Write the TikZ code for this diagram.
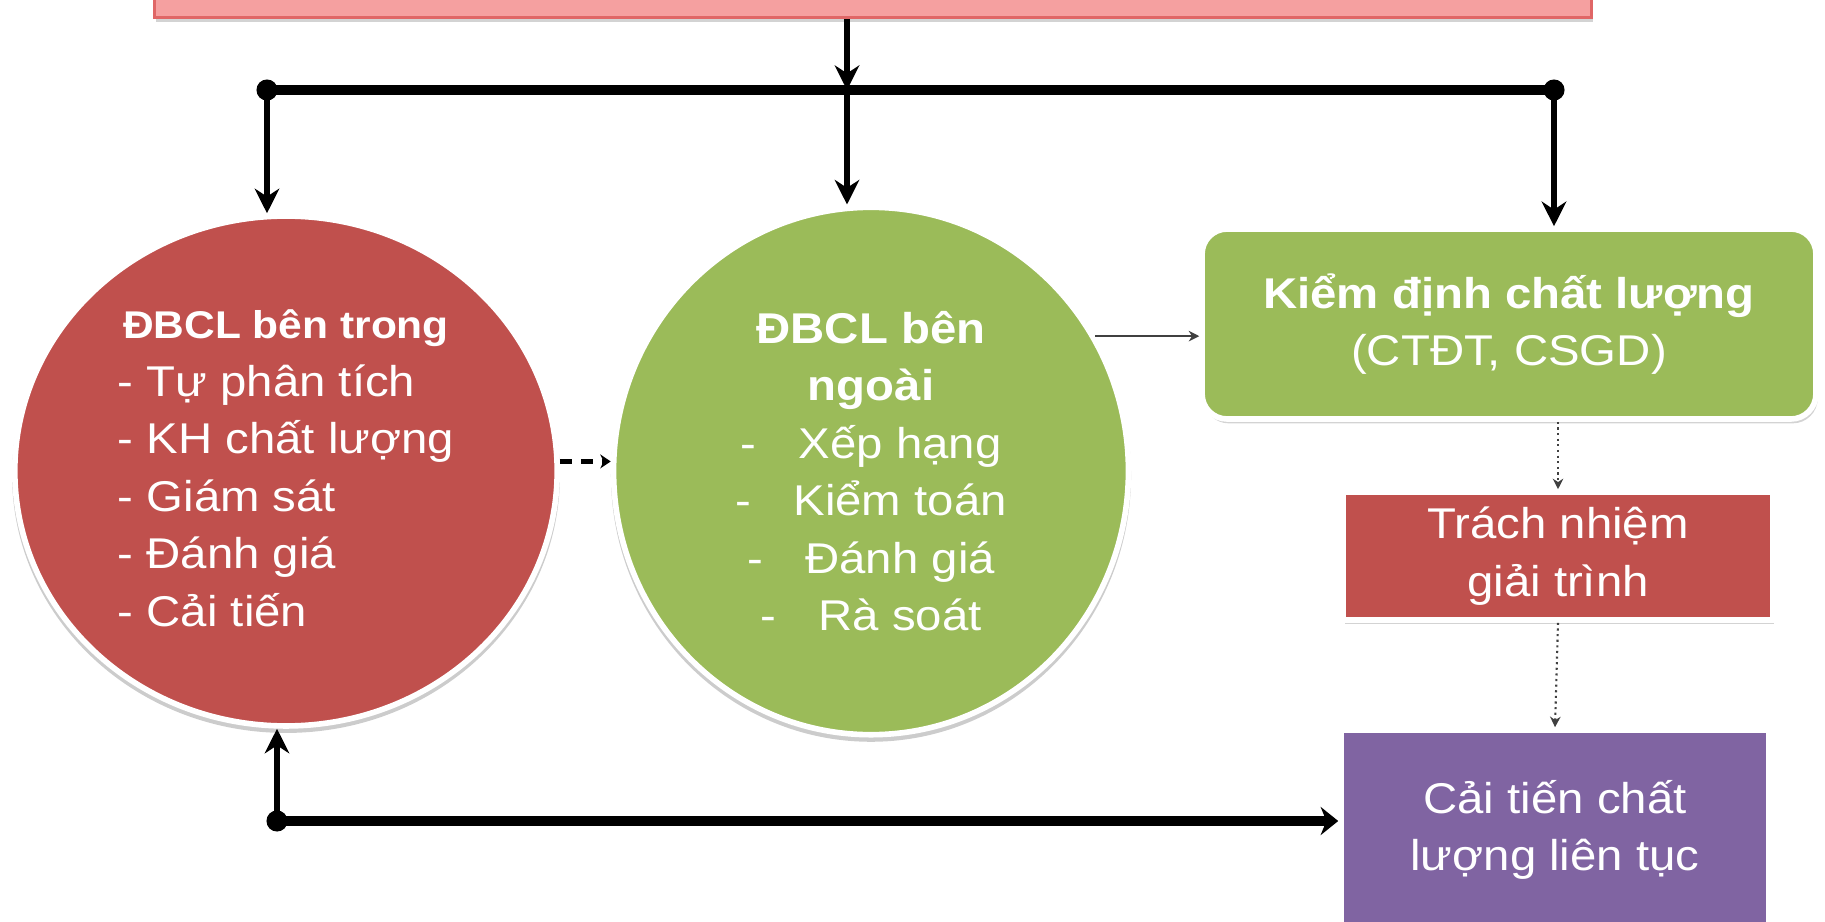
\documentclass[tikz,border=0pt]{standalone}
\usepackage{fontspec}
\setmainfont{Liberation Sans}[FakeStretch=1.1]
\usetikzlibrary{arrows.meta,shapes.geometric,shadows}
\definecolor{dbred}{HTML}{C0504D}
\definecolor{dbgreen}{HTML}{9BBB59}
\definecolor{dbpurple}{HTML}{8064A2}
\definecolor{dbpink}{HTML}{F5A0A0}
\definecolor{dbpinkline}{HTML}{E06666}
\begin{document}
\begin{tikzpicture}
  [x=0.02cm,y=-0.02cm,
   every node/.style={text=white,font=\fontsize{24.5}{32.7}\selectfont},
   oval/.style={draw=white,line width=3.2pt,ellipse,inner sep=0pt,drop shadow={shadow scale=1.01,shadow xshift=0pt,shadow yshift=-2.5pt,opacity=.4}},
   box/.style={draw=white,line width=3.2pt,rectangle,drop shadow={shadow xshift=1pt,shadow yshift=-2.5pt,opacity=.35}},
   link/.style={line width=3.2pt,-{Stealth[length=14pt,width=14pt]}},
   trunk/.style={line width=6pt},
   faint/.style={line width=1.2pt,draw=black!75,-{Stealth[length=6pt,width=6pt]}}]
  \useasboundingbox (0,0) rectangle (1825,922);
  \clip (0,0) rectangle (1825,922);
  \node (top)[box,fill=dbpink,draw=dbpinkline,line width=1.5pt,minimum width=28.74cm,minimum height=1.5cm] at (873,-20) {};
  \node (intern)[oval,fill=dbred,minimum width=10.85cm,minimum height=10.2cm] at (286,471)
    {\begin{tabular}{@{}c@{}}{\fontsize{22}{26}\selectfont\bfseries ĐBCL bên trong}\\
     \begin{tabular}{@{}l@{}}- Tự phân tích\\- KH chất lượng\\- Giám sát\\- Đánh giá\\- Cải tiến\end{tabular}\end{tabular}};
  \node (extern)[oval,fill=dbgreen,minimum width=10.3cm,minimum height=10.55cm,align=center] at (871,471)
    {\textbf{ĐBCL bên}\\\textbf{ngoài}\\-\hspace{0.85cm}Xếp hạng\\-\hspace{0.85cm}Kiểm toán\\-\hspace{0.85cm}Đánh giá\\-\hspace{0.85cm}Rà soát};
  \node (accred)[box,rounded corners=0.5cm,fill=dbgreen,minimum width=12.28cm,minimum height=3.8cm,align=center] at (1509,324)
    {\textbf{Kiểm định chất lượng}\\(CTĐT, CSGD)};
  \node (respons)[box,fill=dbred,minimum width=8.58cm,minimum height=2.56cm,align=center] at (1558,556) {Trách nhiệm\\giải trình};
  \node (improve)[box,fill=dbpurple,minimum width=8.56cm,minimum height=4cm,align=center] at (1555,830) {Cải tiến chất\\lượng liên tục};
  \coordinate (bL) at (267,90);
  \coordinate (bM) at (847,90);
  \coordinate (bR) at (1554,90);
  \coordinate (fb) at (277,821);
  % distribution bar
  \draw[link] (top.south -| bM) -- (bM);
  \draw[trunk] (bL) -- (bR);
  \foreach \from/\to in {bL/intern,bM/extern,bR/accred}
    \draw[link] (\from) -- (\from |- \to.north);
  \draw[line width=2.4pt,dash pattern=on 7pt off 5pt,-{Stealth[length=6pt,width=8pt]}] (intern.2) -- (intern.2 -| extern.west);
  \draw[faint] (extern.31) -- (extern.31 -| accred.west);
  \draw[faint,dotted] (respons.north |- accred.south) -- (respons.north);
  \draw[faint,dotted] (respons.south) -- (improve.north);
  % feedback loop
  \draw[trunk,-{Stealth[length=10pt,width=16pt]}] (fb) -- (fb -| improve.west);
  \draw[link] (fb) -- (fb |- intern.south);
  \foreach \d in {bL,bR,fb}
    \fill (\d) circle (6pt);
\end{tikzpicture}
\end{document}
